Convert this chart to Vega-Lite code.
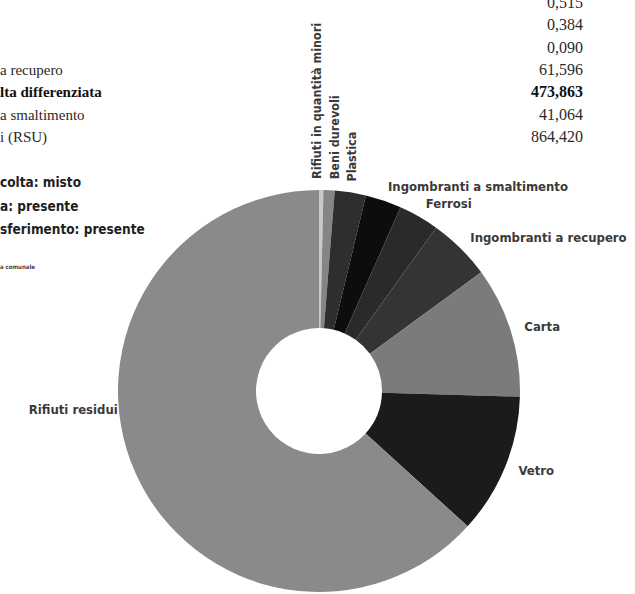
{
  "$schema": "https://vega.github.io/schema/vega-lite/v6.json",
  "width": 402,
  "height": 402,
  "autosize": {"type": "none"},
  "padding": {"left": 118, "top": 190, "right": 115, "bottom": 2},
  "background": "#ffffff",
  "config": {
    "view": {"stroke": null},
    "locale": {"number": {"decimal": ",", "thousands": ".", "grouping": [3], "currency": ["€", ""]}}
  },
  "datasets": {
    "raccolta": [
      {"categoria": "Rifiuti in quantità minori", "percentuale": 0.35, "ordine": 1},
      {"categoria": "Beni durevoli", "percentuale": 0.9, "ordine": 2},
      {"categoria": "Plastica", "percentuale": 2.5, "ordine": 3},
      {"categoria": "Ingombranti a smaltimento", "percentuale": 2.9, "ordine": 4},
      {"categoria": "Ferrosi", "percentuale": 3.25, "ordine": 5},
      {"categoria": "Ingombranti a recupero", "percentuale": 5.05, "ordine": 6},
      {"categoria": "Carta", "percentuale": 10.5, "ordine": 7},
      {"categoria": "Vetro", "percentuale": 11.3, "ordine": 8},
      {"categoria": "Rifiuti residui", "percentuale": 63.25, "ordine": 9}
    ],
    "tabella": [
      {"voce": "", "quantita": 0.515},
      {"voce": "", "quantita": 0.384},
      {"voce": "", "quantita": 0.09},
      {"voce": "a recupero", "quantita": 61.596},
      {"voce": "lta differenziata", "quantita": 473.863},
      {"voce": "a smaltimento", "quantita": 41.064},
      {"voce": "i (RSU)", "quantita": 864.42}
    ],
    "servizi": [
      {"testo": "colta: misto"},
      {"testo": "a: presente"},
      {"testo": "sferimento: presente"}
    ],
    "nota": [
      {"testo": "a comunale"}
    ]
  },
  "resolve": {"scale": {"x": "independent", "y": "independent"}},
  "layer": [
    {
      "data": {"name": "raccolta"},
      "mark": {"type": "arc", "innerRadius": 63, "outerRadius": 201},
      "encoding": {
        "theta": {"field": "percentuale", "type": "quantitative", "stack": true},
        "order": {"field": "ordine", "type": "quantitative"},
        "color": {
          "field": "categoria",
          "type": "nominal",
          "scale": {
            "domain": ["Rifiuti in quantità minori", "Beni durevoli", "Plastica", "Ingombranti a smaltimento", "Ferrosi", "Ingombranti a recupero", "Carta", "Vetro", "Rifiuti residui"],
            "range": ["#c9c9c9", "#858585", "#2e2e2e", "#0d0d0d", "#2a2a2a", "#343434", "#7b7b7b", "#1b1b1b", "#8a8a8a"]
          },
          "legend": null
        }
      }
    },
    {
      "data": {"name": "raccolta"},
      "mark": {"type": "text", "radius": 212, "angle": 270, "dy": -4, "align": "left", "baseline": "middle", "font": "DejaVu Sans Condensed, sans-serif", "fontWeight": "bold", "fontSize": 12.5, "color": "#3a3a3a"},
      "encoding": {
        "theta": {"field": "percentuale", "type": "quantitative", "stack": true},
        "order": {"field": "ordine", "type": "quantitative"},
        "text": {"condition": {"test": "datum.ordine == 1", "field": "categoria", "type": "nominal"}, "value": ""}
      }
    },
    {
      "data": {"name": "raccolta"},
      "mark": {"type": "text", "radius": 212, "angle": 270, "dy": 5, "align": "left", "baseline": "middle", "font": "DejaVu Sans Condensed, sans-serif", "fontWeight": "bold", "fontSize": 12.5, "color": "#3a3a3a"},
      "encoding": {
        "theta": {"field": "percentuale", "type": "quantitative", "stack": true},
        "order": {"field": "ordine", "type": "quantitative"},
        "text": {"condition": {"test": "datum.ordine == 2", "field": "categoria", "type": "nominal"}, "value": ""}
      }
    },
    {
      "data": {"name": "raccolta"},
      "mark": {"type": "text", "radius": 212, "angle": 270, "align": "left", "baseline": "middle", "font": "DejaVu Sans Condensed, sans-serif", "fontWeight": "bold", "fontSize": 12.5, "color": "#3a3a3a"},
      "encoding": {
        "theta": {"field": "percentuale", "type": "quantitative", "stack": true},
        "order": {"field": "ordine", "type": "quantitative"},
        "text": {"condition": {"test": "datum.ordine == 3", "field": "categoria", "type": "nominal"}, "value": ""}
      }
    },
    {
      "data": {"name": "raccolta"},
      "mark": {"type": "text", "radius": 215, "align": "left", "baseline": "middle", "font": "DejaVu Sans Condensed, sans-serif", "fontWeight": "bold", "fontSize": 13, "color": "#3a3a3a"},
      "encoding": {
        "theta": {"field": "percentuale", "type": "quantitative", "stack": true},
        "order": {"field": "ordine", "type": "quantitative"},
        "text": {"condition": {"test": "datum.ordine >= 4 && datum.ordine <= 8", "field": "categoria", "type": "nominal"}, "value": ""}
      }
    },
    {
      "data": {"name": "raccolta"},
      "mark": {"type": "text", "radius": 220, "dy": -70, "align": "right", "baseline": "middle", "font": "DejaVu Sans Condensed, sans-serif", "fontWeight": "bold", "fontSize": 13, "color": "#3a3a3a"},
      "encoding": {
        "theta": {"field": "percentuale", "type": "quantitative", "stack": true},
        "order": {"field": "ordine", "type": "quantitative"},
        "text": {"condition": {"test": "datum.ordine == 9", "field": "categoria", "type": "nominal"}, "value": ""}
      }
    },
    {
      "data": {"name": "tabella"},
      "mark": {"type": "text", "align": "right", "baseline": "middle", "font": "Liberation Serif", "fontSize": 16, "color": "#2a2a2a"},
      "encoding": {
        "x": {"datum": "quantita", "type": "nominal", "scale": {"type": "point", "domain": ["voce", "quantita"], "range": [-118, 465], "padding": 0}, "axis": null},
        "y": {"field": "quantita", "type": "ordinal", "sort": null, "scale": {"type": "point", "range": [-187, -53], "padding": 0}, "axis": null},
        "text": {"condition": {"test": "datum.quantita != 473.863", "field": "quantita", "type": "quantitative", "format": ".3f"}, "value": ""}
      }
    },
    {
      "data": {"name": "tabella"},
      "mark": {"type": "text", "align": "right", "baseline": "middle", "font": "Liberation Serif", "fontWeight": "bold", "fontSize": 16, "color": "#111111"},
      "encoding": {
        "x": {"datum": "quantita", "type": "nominal", "scale": {"type": "point", "domain": ["voce", "quantita"], "range": [-118, 465], "padding": 0}, "axis": null},
        "y": {"field": "quantita", "type": "ordinal", "sort": null, "scale": {"type": "point", "range": [-187, -53], "padding": 0}, "axis": null},
        "text": {"condition": {"test": "datum.quantita == 473.863", "field": "quantita", "type": "quantitative", "format": ".3f"}, "value": ""}
      }
    },
    {
      "data": {"name": "tabella"},
      "mark": {"type": "text", "align": "left", "baseline": "middle", "font": "Liberation Serif", "fontSize": 15, "color": "#2a2a2a"},
      "encoding": {
        "x": {"datum": "voce", "type": "nominal", "scale": {"type": "point", "domain": ["voce", "quantita"], "range": [-118, 465], "padding": 0}, "axis": null},
        "y": {"field": "quantita", "type": "ordinal", "sort": null, "scale": {"type": "point", "range": [-187, -53], "padding": 0}, "axis": null},
        "text": {"condition": {"test": "datum.quantita != 473.863", "field": "voce", "type": "nominal"}, "value": ""}
      }
    },
    {
      "data": {"name": "tabella"},
      "mark": {"type": "text", "align": "left", "baseline": "middle", "font": "Liberation Serif", "fontWeight": "bold", "fontSize": 15, "color": "#111111"},
      "encoding": {
        "x": {"datum": "voce", "type": "nominal", "scale": {"type": "point", "domain": ["voce", "quantita"], "range": [-118, 465], "padding": 0}, "axis": null},
        "y": {"field": "quantita", "type": "ordinal", "sort": null, "scale": {"type": "point", "range": [-187, -53], "padding": 0}, "axis": null},
        "text": {"condition": {"test": "datum.quantita == 473.863", "field": "voce", "type": "nominal"}, "value": ""}
      }
    },
    {
      "data": {"name": "servizi"},
      "mark": {"type": "text", "align": "left", "baseline": "middle", "font": "DejaVu Sans Condensed, sans-serif", "fontWeight": "bold", "fontSize": 13.5, "color": "#1e1e1e"},
      "encoding": {
        "x": {"datum": "testo", "type": "nominal", "scale": {"type": "point", "domain": ["testo"], "range": [-118, -118], "padding": 0}, "axis": null},
        "y": {"field": "testo", "type": "nominal", "sort": null, "scale": {"type": "point", "range": [-7, 40], "padding": 0}, "axis": null},
        "text": {"field": "testo", "type": "nominal"}
      }
    },
    {
      "data": {"name": "nota"},
      "mark": {"type": "text", "align": "left", "baseline": "middle", "font": "DejaVu Sans Condensed, sans-serif", "fontWeight": "bold", "fontSize": 6, "color": "#444444"},
      "encoding": {
        "x": {"datum": "testo", "type": "nominal", "scale": {"type": "point", "domain": ["testo"], "range": [-118, -118], "padding": 0}, "axis": null},
        "y": {"field": "testo", "type": "nominal", "scale": {"type": "point", "range": [77, 77], "padding": 0}, "axis": null},
        "text": {"field": "testo", "type": "nominal"}
      }
    }
  ]
}
